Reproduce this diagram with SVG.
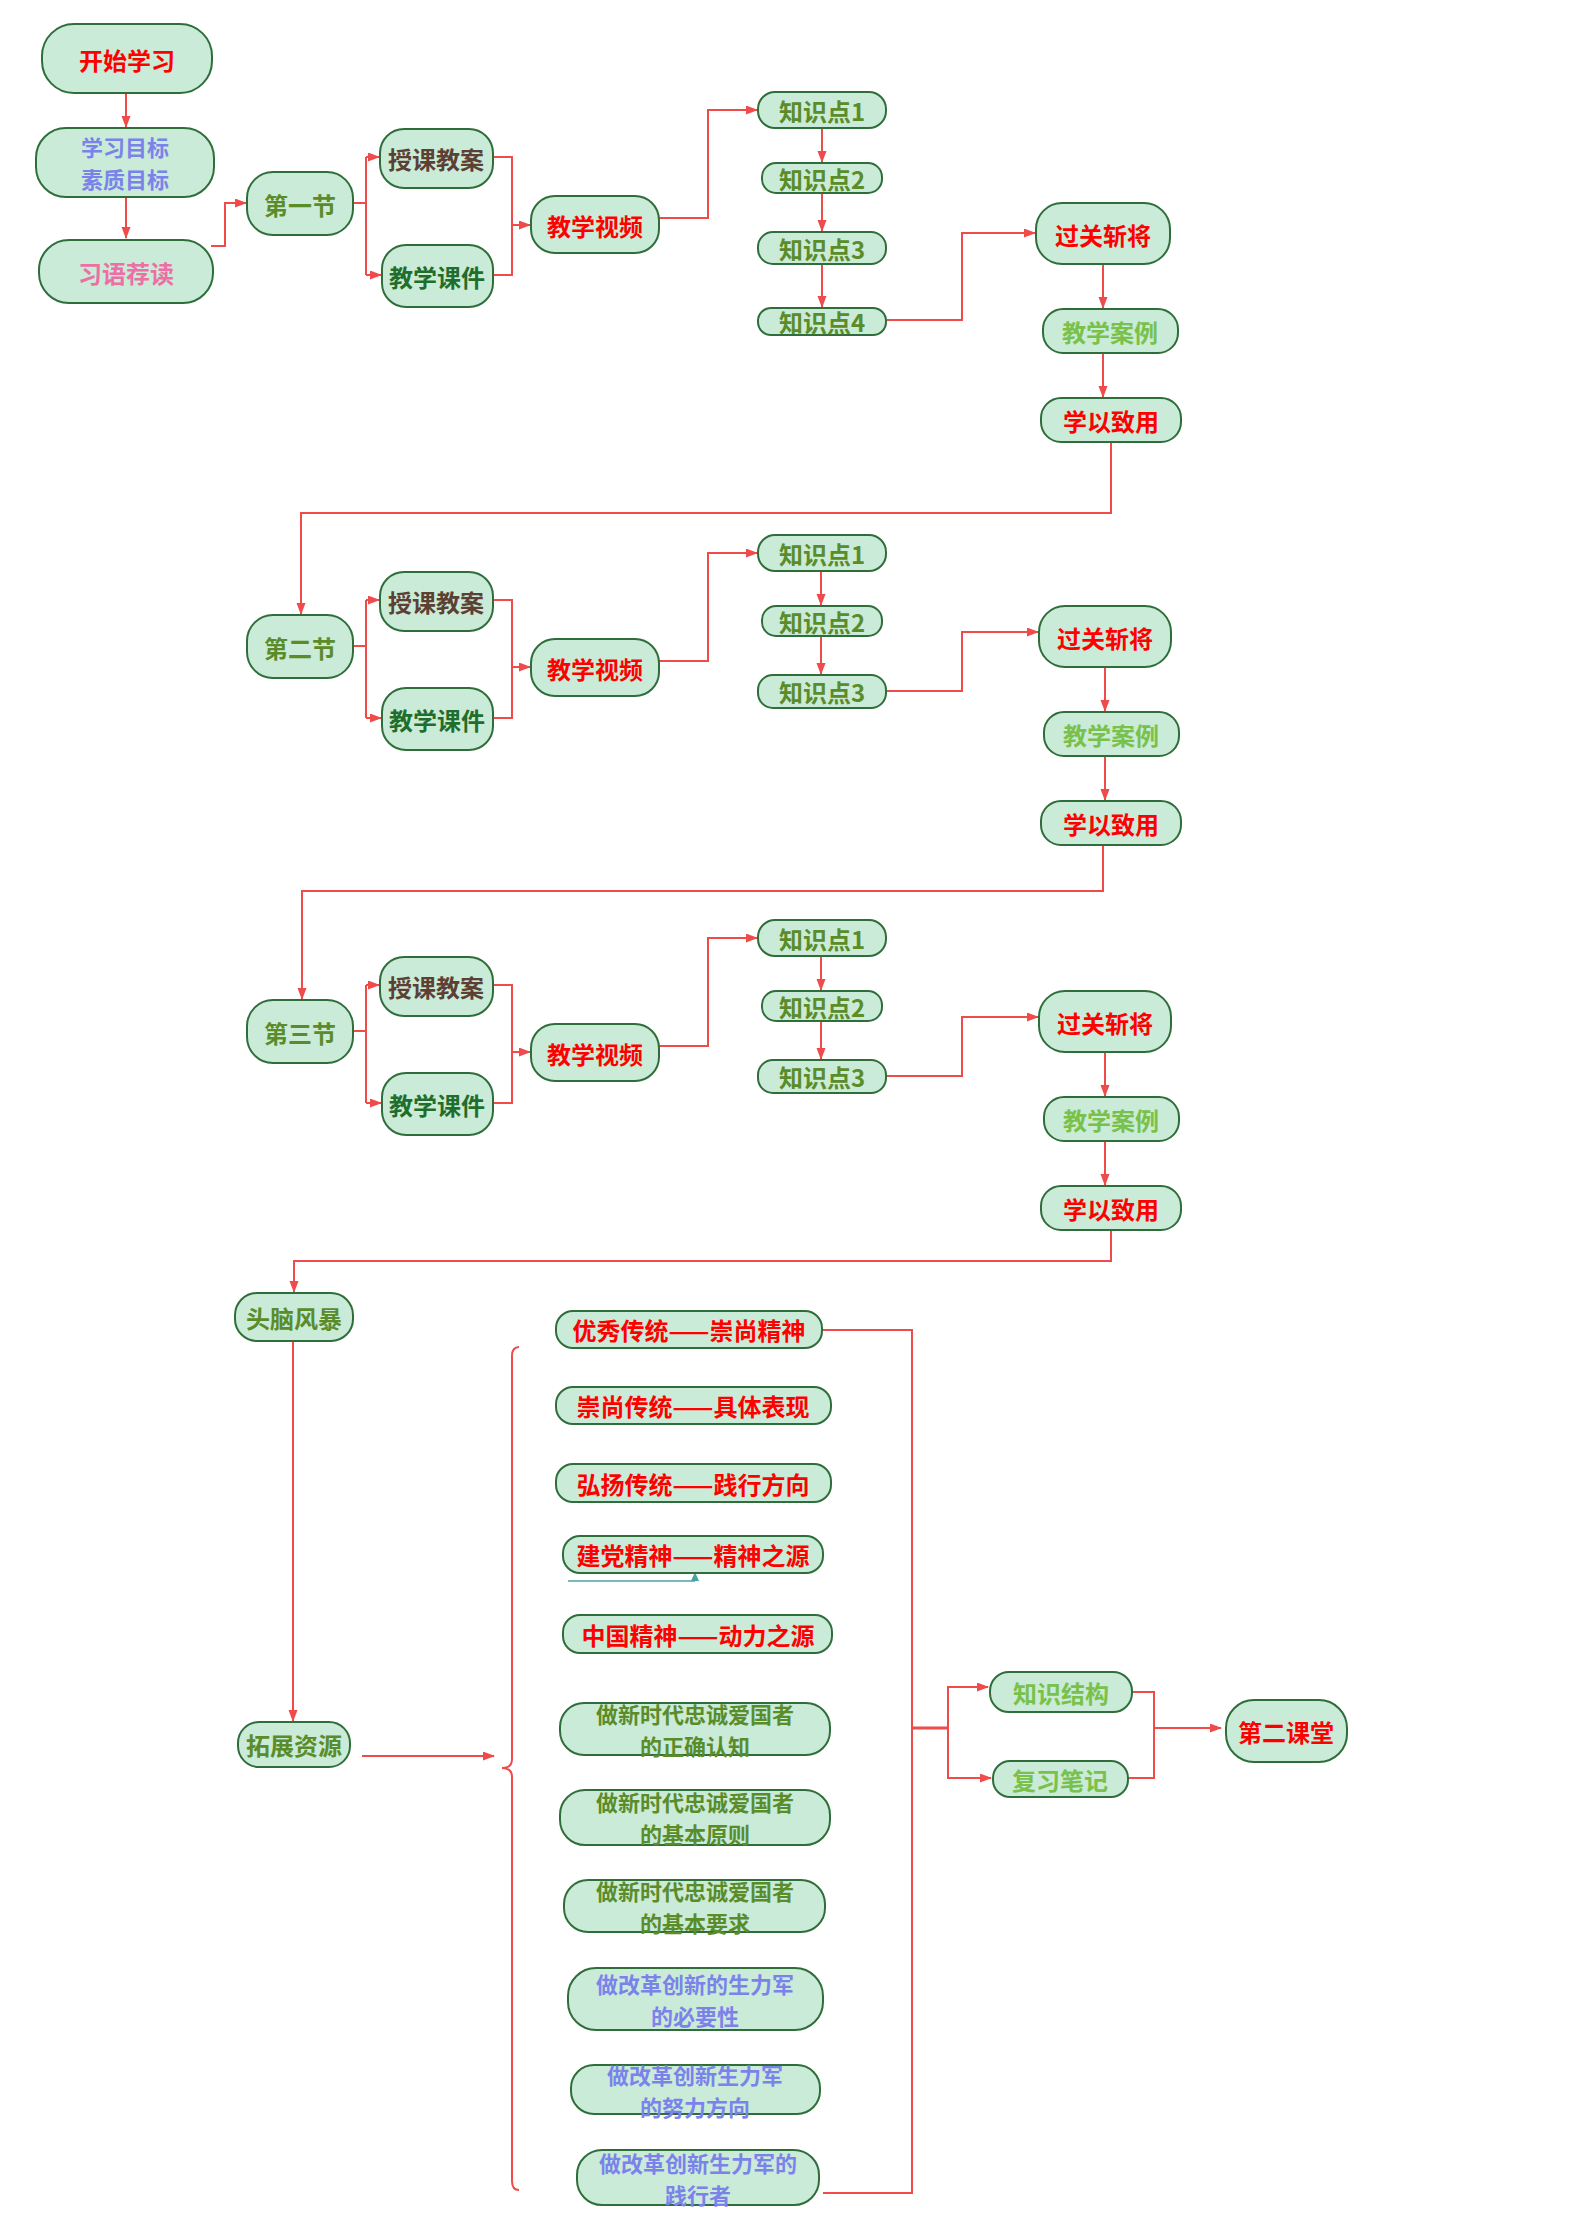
<svg xmlns="http://www.w3.org/2000/svg" width="1587" height="2229" viewBox="0 0 1587 2229">
<style>
.n rect{fill:#c9ebd7;stroke:#2f6e3b;stroke-width:2}
.n text{font-family:"Noto Sans CJK SC","Noto Sans",sans-serif;font-weight:700;font-size:24px;text-anchor:middle;dominant-baseline:central}
.n text.two{font-size:22px}
.red text{fill:#ff0000}
.blue text{fill:#7b83eb}
.pink text{fill:#ec6fa6}
.olive text{fill:#5b8c2a}
.brown text{fill:#5c4033}
.dg text{fill:#1f6e2c}
.lg text{fill:#79c14a}
#connectors path,#connectors line{fill:none;stroke:#ef4b4b;stroke-width:2}
</style>
<defs>
<marker id="ah" markerUnits="userSpaceOnUse" markerWidth="12" markerHeight="10" refX="11" refY="4.5" orient="auto">
<path d="M0,0 L12,4.5 L0,9 z" fill="#ef4b4b"/>
</marker>
<marker id="ta" markerUnits="userSpaceOnUse" markerWidth="10" markerHeight="10" refX="5" refY="9" orient="0">
<path d="M1,9 L5,0 L9,9 z" fill="#4aa3a3"/>
</marker>
</defs>
<rect width="1587" height="2229" fill="#ffffff"/>

<g id="connectors">
<path d="M126,92 V127" marker-end="url(#ah)"/>
<path d="M126,197 V238" marker-end="url(#ah)"/>
<path d="M211,246 H225 V203 H246" marker-end="url(#ah)"/>
<path d="M353,203 H366 M366,157 V275 M366,157 H379" marker-end="url(#ah)"/>
<path d="M366,275 H381" marker-end="url(#ah)"/>
<path d="M493,157 H512 V275 H493 M512,225 H530" marker-end="url(#ah)"/>
<path d="M659,218 H708 V110 H757" marker-end="url(#ah)"/>
<path d="M822,128 V162" marker-end="url(#ah)"/>
<path d="M822,193 V231" marker-end="url(#ah)"/>
<path d="M822,264 V307" marker-end="url(#ah)"/>
<path d="M886,320 H962 V233 H1035" marker-end="url(#ah)"/>
<path d="M1103,264 V308" marker-end="url(#ah)"/>
<path d="M1103,353 V397" marker-end="url(#ah)"/>
<path d="M1111,442 V513 H301 V614" marker-end="url(#ah)"/>
<path d="M353,646 H366 M366,600 V718 M366,600 H379" marker-end="url(#ah)"/>
<path d="M366,718 H381" marker-end="url(#ah)"/>
<path d="M493,600 H512 V718 H493 M512,667 H530" marker-end="url(#ah)"/>
<path d="M659,661 H708 V553 H757" marker-end="url(#ah)"/>
<path d="M821,571 V605" marker-end="url(#ah)"/>
<path d="M821,636 V674" marker-end="url(#ah)"/>
<path d="M886,691 H962 V632 H1038" marker-end="url(#ah)"/>
<path d="M1105,667 V711" marker-end="url(#ah)"/>
<path d="M1105,756 V800" marker-end="url(#ah)"/>
<path d="M1103,845 V891 H302 V999" marker-end="url(#ah)"/>
<path d="M353,1031 H366 M366,985 V1103 M366,985 H379" marker-end="url(#ah)"/>
<path d="M366,1103 H381" marker-end="url(#ah)"/>
<path d="M493,985 H512 V1103 H493 M512,1052 H530" marker-end="url(#ah)"/>
<path d="M659,1046 H708 V938 H757" marker-end="url(#ah)"/>
<path d="M821,956 V990" marker-end="url(#ah)"/>
<path d="M821,1021 V1059" marker-end="url(#ah)"/>
<path d="M886,1076 H962 V1017 H1038" marker-end="url(#ah)"/>
<path d="M1105,1052 V1096" marker-end="url(#ah)"/>
<path d="M1105,1141 V1185" marker-end="url(#ah)"/>
<path d="M1111,1230 V1261 H294 V1292" marker-end="url(#ah)"/>
<path d="M293,1341 V1721" marker-end="url(#ah)"/>
<path d="M362,1756 H494" marker-end="url(#ah)"/>
<path d="M519,1347 Q512,1347 512,1356 V1759 Q512,1768 502,1768 Q512,1768 512,1777 V2181 Q512,2190 519,2190"/>
<path d="M822,1330 H912 V2193 H823"/>
<path d="M912,1728 H948" style="stroke-width:3"/>
<path d="M948,1728 V1687 H988" marker-end="url(#ah)"/>
<path d="M948,1728 V1778 H991" marker-end="url(#ah)"/>
<path d="M1132,1692 H1154 V1778 H1128 M1154,1728 H1221" marker-end="url(#ah)"/>
<line x1="568" y1="1581" x2="695" y2="1581" style="stroke:#4aa3a3;stroke-width:1.5" marker-end="url(#ta)"/>
</g>

<g id="n-start" class="n red"><rect x="42" y="24" width="170" height="69" rx="32"/><text x="127" y="59">开始学习</text></g>
<g id="n-goal" class="n blue"><rect x="36" y="128" width="178" height="69" rx="30"/><text class="two" x="125" y="146">学习目标<tspan x="125" dy="32">素质目标</tspan></text></g>
<g id="n-read" class="n pink"><rect x="39" y="240" width="174" height="63" rx="30"/><text x="126" y="272">习语荐读</text></g>

<g id="s1-sec" class="n olive"><rect x="247" y="172" width="106" height="63" rx="26"/><text x="300" y="204">第一节</text></g>
<g id="s1-plan" class="n brown"><rect x="380" y="129" width="113" height="59" rx="24"/><text x="436" y="158">授课教案</text></g>
<g id="s1-ppt" class="n dg"><rect x="382" y="245" width="111" height="62" rx="24"/><text x="437" y="276">教学课件</text></g>
<g id="s1-video" class="n red"><rect x="531" y="196" width="128" height="57" rx="24"/><text x="595" y="225">教学视频</text></g>
<g id="s1-k1" class="n olive"><rect x="758" y="92" width="128" height="36" rx="17"/><text x="822" y="110">知识点1</text></g>
<g id="s1-k2" class="n olive"><rect x="762" y="163" width="120" height="30" rx="14"/><text x="822" y="178">知识点2</text></g>
<g id="s1-k3" class="n olive"><rect x="758" y="232" width="128" height="32" rx="15"/><text x="822" y="248">知识点3</text></g>
<g id="s1-k4" class="n olive"><rect x="758" y="308" width="128" height="27" rx="13"/><text x="822" y="321">知识点4</text></g>
<g id="s1-pass" class="n red"><rect x="1036" y="203" width="134" height="61" rx="26"/><text x="1103" y="234">过关斩将</text></g>
<g id="s1-case" class="n lg"><rect x="1043" y="309" width="135" height="44" rx="20"/><text x="1110" y="331">教学案例</text></g>
<g id="s1-apply" class="n red"><rect x="1041" y="398" width="140" height="44" rx="20"/><text x="1111" y="420">学以致用</text></g>

<g id="s2-sec" class="n olive"><rect x="247" y="615" width="106" height="63" rx="26"/><text x="300" y="647">第二节</text></g>
<g id="s2-plan" class="n brown"><rect x="380" y="572" width="113" height="59" rx="24"/><text x="436" y="601">授课教案</text></g>
<g id="s2-ppt" class="n dg"><rect x="382" y="688" width="111" height="62" rx="24"/><text x="437" y="719">教学课件</text></g>
<g id="s2-video" class="n red"><rect x="531" y="639" width="128" height="57" rx="24"/><text x="595" y="668">教学视频</text></g>
<g id="s2-k1" class="n olive"><rect x="758" y="535" width="128" height="36" rx="17"/><text x="822" y="553">知识点1</text></g>
<g id="s2-k2" class="n olive"><rect x="762" y="606" width="120" height="30" rx="14"/><text x="822" y="621">知识点2</text></g>
<g id="s2-k3" class="n olive"><rect x="758" y="675" width="128" height="33" rx="15"/><text x="822" y="691">知识点3</text></g>
<g id="s2-pass" class="n red"><rect x="1039" y="606" width="132" height="61" rx="26"/><text x="1105" y="637">过关斩将</text></g>
<g id="s2-case" class="n lg"><rect x="1044" y="712" width="135" height="44" rx="20"/><text x="1111" y="734">教学案例</text></g>
<g id="s2-apply" class="n red"><rect x="1041" y="801" width="140" height="44" rx="20"/><text x="1111" y="823">学以致用</text></g>

<g id="s3-sec" class="n olive"><rect x="247" y="1000" width="106" height="63" rx="26"/><text x="300" y="1032">第三节</text></g>
<g id="s3-plan" class="n brown"><rect x="380" y="957" width="113" height="59" rx="24"/><text x="436" y="986">授课教案</text></g>
<g id="s3-ppt" class="n dg"><rect x="382" y="1073" width="111" height="62" rx="24"/><text x="437" y="1104">教学课件</text></g>
<g id="s3-video" class="n red"><rect x="531" y="1024" width="128" height="57" rx="24"/><text x="595" y="1053">教学视频</text></g>
<g id="s3-k1" class="n olive"><rect x="758" y="920" width="128" height="36" rx="17"/><text x="822" y="938">知识点1</text></g>
<g id="s3-k2" class="n olive"><rect x="762" y="991" width="120" height="30" rx="14"/><text x="822" y="1006">知识点2</text></g>
<g id="s3-k3" class="n olive"><rect x="758" y="1060" width="128" height="33" rx="15"/><text x="822" y="1076">知识点3</text></g>
<g id="s3-pass" class="n red"><rect x="1039" y="991" width="132" height="61" rx="26"/><text x="1105" y="1022">过关斩将</text></g>
<g id="s3-case" class="n lg"><rect x="1044" y="1097" width="135" height="44" rx="20"/><text x="1111" y="1119">教学案例</text></g>
<g id="s3-apply" class="n red"><rect x="1041" y="1186" width="140" height="44" rx="20"/><text x="1111" y="1208">学以致用</text></g>

<g id="n-brain" class="n olive"><rect x="235" y="1293" width="118" height="48" rx="22"/><text x="294" y="1317">头脑风暴</text></g>
<g id="n-expand" class="n olive"><rect x="238" y="1722" width="112" height="45" rx="21"/><text x="294" y="1744">拓展资源</text></g>

<g id="b1" class="n red"><rect x="556" y="1311" width="266" height="37" rx="17"/><text x="689" y="1329">优秀传统——崇尚精神</text></g>
<g id="b2" class="n red"><rect x="556" y="1387" width="275" height="37" rx="17"/><text x="693" y="1405">崇尚传统——具体表现</text></g>
<g id="b3" class="n red"><rect x="556" y="1464" width="275" height="38" rx="17"/><text x="693" y="1483">弘扬传统——践行方向</text></g>
<g id="b4" class="n red"><rect x="563" y="1536" width="260" height="37" rx="17"/><text x="693" y="1554">建党精神——精神之源</text></g>
<g id="b5" class="n red"><rect x="563" y="1615" width="269" height="38" rx="17"/><text x="698" y="1634">中国精神——动力之源</text></g>
<g id="b6" class="n olive"><rect x="560" y="1703" width="270" height="52" rx="24"/><text class="two" x="695" y="1713">做新时代忠诚爱国者<tspan x="695" dy="32">的正确认知</tspan></text></g>
<g id="b7" class="n olive"><rect x="560" y="1790" width="270" height="55" rx="25"/><text class="two" x="695" y="1801">做新时代忠诚爱国者<tspan x="695" dy="32">的基本原则</tspan></text></g>
<g id="b8" class="n olive"><rect x="564" y="1880" width="261" height="52" rx="24"/><text class="two" x="695" y="1890">做新时代忠诚爱国者<tspan x="695" dy="32">的基本要求</tspan></text></g>
<g id="b9" class="n blue"><rect x="568" y="1968" width="255" height="62" rx="28"/><text class="two" x="695" y="1983">做改革创新的生力军<tspan x="695" dy="32">的必要性</tspan></text></g>
<g id="b10" class="n blue"><rect x="571" y="2065" width="249" height="49" rx="23"/><text class="two" x="695" y="2074">做改革创新生力军<tspan x="695" dy="32">的努力方向</tspan></text></g>
<g id="b11" class="n blue"><rect x="577" y="2150" width="242" height="55" rx="25"/><text class="two" x="698" y="2162">做改革创新生力军的<tspan x="698" dy="32">践行者</tspan></text></g>

<g id="n-struct" class="n lg"><rect x="990" y="1672" width="142" height="40" rx="19"/><text x="1061" y="1692">知识结构</text></g>
<g id="n-notes" class="n lg"><rect x="993" y="1761" width="135" height="36" rx="17"/><text x="1060" y="1779">复习笔记</text></g>
<g id="n-class2" class="n red"><rect x="1226" y="1700" width="121" height="62" rx="28"/><text x="1286" y="1731">第二课堂</text></g>
</svg>
